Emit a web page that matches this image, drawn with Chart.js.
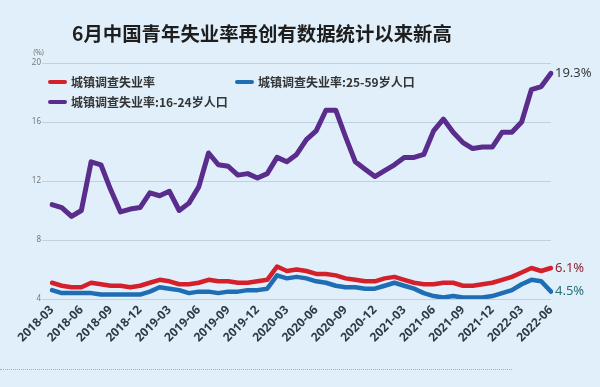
<!DOCTYPE html>
<html lang="zh">
<head>
<meta charset="UTF-8">
<title>6月中国青年失业率再创有数据统计以来新高</title>
<style>
    body { margin: 0; background: #e0effa; font-family: "Noto Sans CJK SC", "Noto Sans", sans-serif; }
    #wrap { position: relative; width: 600px; height: 387px; overflow: hidden; }
    canvas { display: block; }
    .title { position: absolute; left: 72px; top: 18px; font-size: 19.4px; font-weight: bold; color: #1e1e1e; white-space: nowrap; }
    .unit { position: absolute; left: 33px; top: 47px; font-size: 7px; color: #666; }
    .legend-item { position: absolute; display: flex; align-items: center; font-size: 12px; font-weight: bold; color: #333; white-space: nowrap; }
    .legend-item span.swatch { display: inline-block; width: 19px; height: 4px; border-radius: 2px; margin-right: 4px; }
    .dots { position: absolute; left: 0; top: 369px; width: 512px; border-top: 1px dotted #9fb2c0; }
</style>
</head>
<body>
<div id="wrap">
    <canvas id="chart" width="600" height="387"></canvas>
    <div class="title">6月中国青年失业率再创有数据统计以来新高</div>
    <div class="unit">(%)</div>
    <div class="legend-item" style="left:48px; top:73px;"><span class="swatch" style="background:#d3202b"></span>城镇调查失业率</div>
    <div class="legend-item" style="left:235px; top:73px;"><span class="swatch" style="background:#1f6db4"></span>城镇调查失业率:25-59岁人口</div>
    <div class="legend-item" style="left:48px; top:93px;"><span class="swatch" style="background:#5a2c8c"></span>城镇调查失业率:16-24岁人口</div>
    <div class="dots"></div>
</div>

<script src="https://cdn.jsdelivr.net/npm/chart.js"></script>
<script>
    // 月份 2018-03 ~ 2022-06
    const months = [
        '2018-03','2018-04','2018-05','2018-06','2018-07','2018-08','2018-09','2018-10','2018-11','2018-12',
        '2019-01','2019-02','2019-03','2019-04','2019-05','2019-06','2019-07','2019-08','2019-09','2019-10','2019-11','2019-12',
        '2020-01','2020-02','2020-03','2020-04','2020-05','2020-06','2020-07','2020-08','2020-09','2020-10','2020-11','2020-12',
        '2021-01','2021-02','2021-03','2021-04','2021-05','2021-06','2021-07','2021-08','2021-09','2021-10','2021-11','2021-12',
        '2022-01','2022-02','2022-03','2022-04','2022-05','2022-06'
    ];

    // 城镇调查失业率
    const rateAll = [
        5.1, 4.9, 4.8, 4.8, 5.1, 5.0, 4.9, 4.9, 4.8, 4.9,
        5.1, 5.3, 5.2, 5.0, 5.0, 5.1, 5.3, 5.2, 5.2, 5.1, 5.1, 5.2,
        5.3, 6.2, 5.9, 6.0, 5.9, 5.7, 5.7, 5.6, 5.4, 5.3, 5.2, 5.2,
        5.4, 5.5, 5.3, 5.1, 5.0, 5.0, 5.1, 5.1, 4.9, 4.9, 5.0, 5.1,
        5.3, 5.5, 5.8, 6.1, 5.9, 6.1
    ];

    // 25-59岁人口
    const rate2559 = [
        4.6, 4.4, 4.4, 4.4, 4.4, 4.3, 4.3, 4.3, 4.3, 4.3,
        4.5, 4.8, 4.7, 4.6, 4.4, 4.5, 4.5, 4.4, 4.5, 4.5, 4.6, 4.6,
        4.7, 5.6, 5.4, 5.5, 5.4, 5.2, 5.1, 4.9, 4.8, 4.8, 4.7, 4.7,
        4.9, 5.1, 4.9, 4.7, 4.4, 4.2, 4.1, 4.2, 4.1, 4.1, 4.1, 4.2,
        4.4, 4.6, 5.0, 5.3, 5.2, 4.5
    ];

    // 16-24岁人口
    const rate1624 = [
        10.4, 10.2, 9.6, 10.0, 13.3, 13.1, 11.4, 9.9, 10.1, 10.2,
        11.2, 11.0, 11.3, 10.0, 10.5, 11.6, 13.9, 13.1, 13.0, 12.4, 12.5, 12.2,
        12.5, 13.6, 13.3, 13.8, 14.8, 15.4, 16.8, 16.8, 15.0, 13.3, 12.8, 12.3,
        12.7, 13.1, 13.6, 13.6, 13.8, 15.4, 16.2, 15.3, 14.6, 14.2, 14.3, 14.3,
        15.3, 15.3, 16.0, 18.2, 18.4, 19.3
    ];

    const yTicks = [4, 8, 12, 16, 20];
    const lineColors = ['#d3202b', '#1f6db4', '#5a2c8c'];
    const endLabelColors = ['#8e2333', '#2b6f78', '#3a3a3a'];

    // 末端数值标注
    const endLabels = {
        id: 'endLabels',
        afterDatasetsDraw(chart) {
            const ctx = chart.ctx;
            chart.data.datasets.forEach((ds, i) => {
                const meta = chart.getDatasetMeta(i);
                const pt = meta.data[meta.data.length - 1];
                ctx.save();
                ctx.font = '13px "Noto Sans"';
                ctx.fillStyle = endLabelColors[i];
                ctx.textBaseline = 'middle';
                ctx.fillText(ds.data[ds.data.length - 1].toFixed(1) + '%', pt.x + 4, pt.y);
                ctx.restore();
            });
        }
    };

    const makeSet = (label, data, i, width) => ({
        label: label,
        data: data,
        borderColor: lineColors[i],
        backgroundColor: lineColors[i],
        borderWidth: width,
        pointRadius: 0,
        tension: 0,
        borderCapStyle: 'round',
        borderJoinStyle: 'round'
    });

    new Chart(document.getElementById('chart'), {
        type: 'line',
        data: {
            labels: months,
            datasets: [
                makeSet('城镇调查失业率', rateAll, 0, 4.5),
                makeSet('城镇调查失业率:25-59岁人口', rate2559, 1, 4.5),
                makeSet('城镇调查失业率:16-24岁人口', rate1624, 2, 5)
            ]
        },
        options: {
            responsive: false,
            animation: false,
            layout: { padding: { top: 63, right: 49, bottom: 0, left: 0 } },
            plugins: {
                legend: { display: false },
                tooltip: { enabled: false }
            },
            scales: {
                x: {
                    offset: false,
                    border: { display: false },
                    grid: { display: false, drawTicks: false },
                    afterFit: (s) => { s.height = 88; },
                    ticks: {
                        autoSkip: false,
                        minRotation: 45,
                        maxRotation: 45,
                        padding: 4,
                        color: '#2e3b47',
                        font: { family: 'Noto Sans', size: 12, weight: 'bold' },
                        callback: function (val, idx) {
                            return idx % 3 === 0 ? months[idx] : '';
                        }
                    }
                },
                y: {
                    min: 4,
                    max: 20,
                    border: { display: false },
                    afterFit: (s) => { s.width = 52; },
                    afterBuildTicks: (s) => { s.ticks = yTicks.map(v => ({ value: v })); },
                    grid: { color: '#bfd1de', lineWidth: 1, drawTicks: true, tickLength: 10 },
                    ticks: {
                        padding: 1,
                        color: '#777',
                        font: { family: 'Noto Sans', size: 8 }
                    }
                }
            }
        },
        plugins: [endLabels]
    });
</script>
</body>
</html>
